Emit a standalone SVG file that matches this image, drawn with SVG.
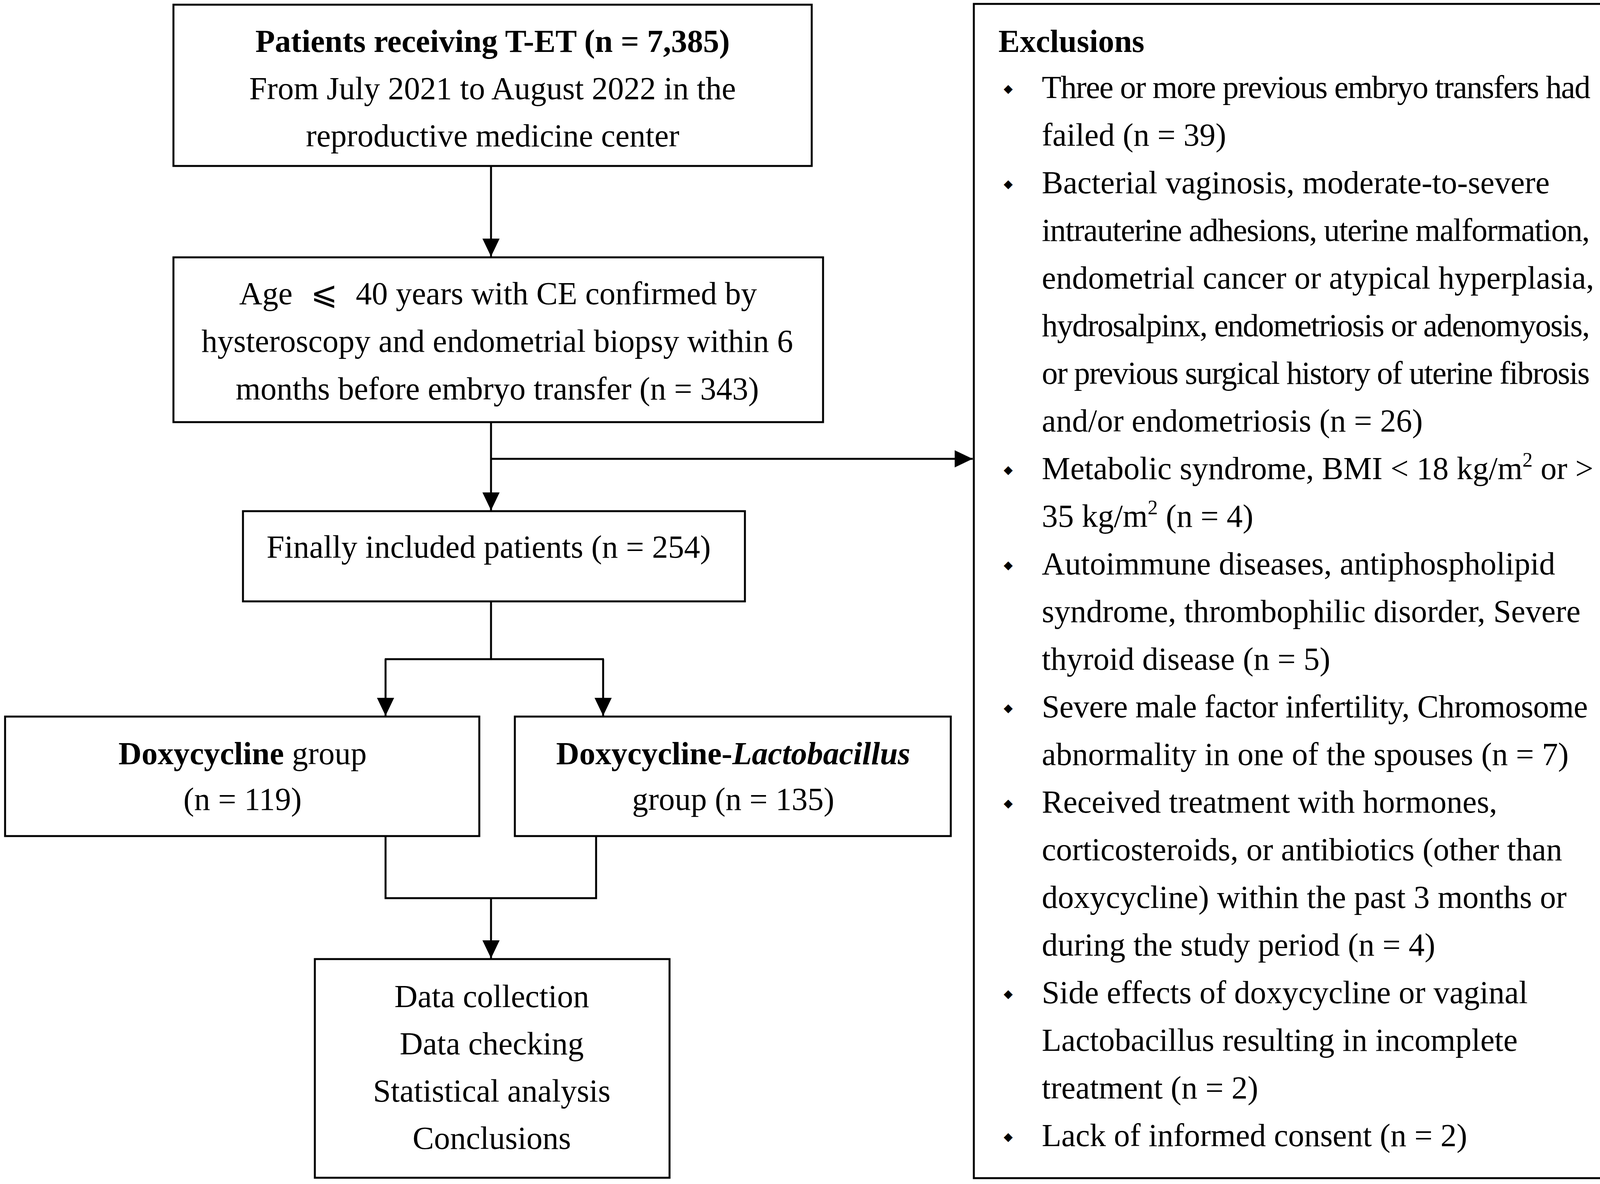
<svg xmlns="http://www.w3.org/2000/svg" width="4242" height="3032" viewBox="0 0 4242 3032">
<style>
.box{fill:#fff;stroke:#000;stroke-width:5}
.t{font-family:"Liberation Serif","Times New Roman",serif;font-size:82px;fill:#000}
.c{text-anchor:middle}
.b{font-weight:bold}
.bl{font-family:"DejaVu Sans",sans-serif;font-size:30px;text-anchor:middle}
.ln{fill:none;stroke:#000;stroke-width:5}
</style>
<defs>
<marker id="ah" markerUnits="userSpaceOnUse" markerWidth="46" markerHeight="44" refX="46" refY="22" orient="auto">
<path d="M0,0 L46,22 L0,44 Z" fill="#000"/>
</marker>
</defs>
<rect width="4242" height="3032" fill="#fff"/>
<g id="connectors">
<path class="ln" d="M1257,425 V657" marker-end="url(#ah)"/>
<path class="ln" d="M1257,1081 V1307" marker-end="url(#ah)"/>
<path class="ln" d="M1257,1175 H2490" marker-end="url(#ah)"/>
<path class="ln" d="M1257,1540 V1688"/>
<path class="ln" d="M985,1688 H1546"/>
<path class="ln" d="M987,1688 V1833" marker-end="url(#ah)"/>
<path class="ln" d="M1544,1688 V1833" marker-end="url(#ah)"/>
<path class="ln" d="M987,2141 V2300 H1526 V2141"/>
<path class="ln" d="M1257,2300 V2454" marker-end="url(#ah)"/>
</g>
<g id="n1">
<rect class="box" x="444" y="12" width="1634" height="413"/>
<text class="t c b" x="1261" y="133">Patients receiving T-ET (n = 7,385)</text>
<text class="t c" x="1261" y="254">From July 2021 to August 2022 in the</text>
<text class="t c" x="1261" y="375">reproductive medicine center</text>
</g>
<g id="n2">
<rect class="box" x="444" y="659" width="1663" height="422"/>
<text class="t c" x="1275" y="779">Age <tspan dx="26" font-family="DejaVu Sans, sans-serif">⩽</tspan><tspan dx="26"> 40 years with CE confirmed by</tspan></text>
<text class="t c" x="1273" y="901">hysteroscopy and endometrial biopsy within 6</text>
<text class="t c" x="1273" y="1023">months before embryo transfer (n = 343)</text>
</g>
<g id="n3">
<rect class="box" x="622" y="1309" width="1285" height="231"/>
<text class="t c" x="1251" y="1428">Finally included patients (n = 254)</text>
</g>
<g id="n4">
<rect class="box" x="13" y="1835" width="1214" height="306"/>
<text class="t c" x="621" y="1957"><tspan class="b">Doxycycline</tspan> group</text>
<text class="t c" x="621" y="2074">(n = 119)</text>
</g>
<g id="n5">
<rect class="box" x="1318" y="1835" width="1116" height="306"/>
<text class="t c" x="1877" y="1957"><tspan class="b">Doxycycline-</tspan><tspan class="b" font-style="italic">Lactobacillus</tspan></text>
<text class="t c" x="1877" y="2074">group (n = 135)</text>
</g>
<g id="n6">
<rect class="box" x="806" y="2456" width="908" height="560"/>
<text class="t c" x="1259" y="2579">Data collection</text>
<text class="t c" x="1259" y="2700">Data checking</text>
<text class="t c" x="1259" y="2821">Statistical analysis</text>
<text class="t c" x="1259" y="2942">Conclusions</text>
</g>
<g id="exclusions">
<rect class="box" x="2493" y="10" width="1736" height="3007"/>
<text class="t b" x="2556" y="133">Exclusions</text>
<text class="bl" x="2581" y="237">◆</text>
<text class="bl" x="2581" y="481">◆</text>
<text class="bl" x="2581" y="1213">◆</text>
<text class="bl" x="2581" y="1457">◆</text>
<text class="bl" x="2581" y="1823">◆</text>
<text class="bl" x="2581" y="2067">◆</text>
<text class="bl" x="2581" y="2555">◆</text>
<text class="bl" x="2581" y="2921">◆</text>
<text class="t" x="2667" y="251" letter-spacing="-1.9">Three or more previous embryo transfers had</text>
<text class="t" x="2667" y="373">failed (n = 39)</text>
<text class="t" x="2667" y="495">Bacterial vaginosis, moderate-to-severe</text>
<text class="t" x="2667" y="617" letter-spacing="-1.7">intrauterine adhesions, uterine malformation,</text>
<text class="t" x="2667" y="739">endometrial cancer or atypical hyperplasia,</text>
<text class="t" x="2667" y="861" letter-spacing="-2">hydrosalpinx, endometriosis or adenomyosis,</text>
<text class="t" x="2667" y="983" letter-spacing="-2.1">or previous surgical history of uterine fibrosis</text>
<text class="t" x="2667" y="1105">and/or endometriosis (n = 26)</text>
<text class="t" x="2667" y="1227">Metabolic syndrome, BMI &lt; 18 kg/m<tspan dy="-32" font-size="52">2</tspan><tspan dy="32"> or &gt;</tspan></text>
<text class="t" x="2667" y="1349">35 kg/m<tspan dy="-32" font-size="52">2</tspan><tspan dy="32"> (n = 4)</tspan></text>
<text class="t" x="2667" y="1471">Autoimmune diseases, antiphospholipid</text>
<text class="t" x="2667" y="1593">syndrome, thrombophilic disorder, Severe</text>
<text class="t" x="2667" y="1715">thyroid disease (n = 5)</text>
<text class="t" x="2667" y="1837" letter-spacing="-0.6">Severe male factor infertility, Chromosome</text>
<text class="t" x="2667" y="1959">abnormality in one of the spouses (n = 7)</text>
<text class="t" x="2667" y="2081">Received treatment with hormones,</text>
<text class="t" x="2667" y="2203">corticosteroids, or antibiotics (other than</text>
<text class="t" x="2667" y="2325">doxycycline) within the past 3 months or</text>
<text class="t" x="2667" y="2447">during the study period (n = 4)</text>
<text class="t" x="2667" y="2569">Side effects of doxycycline or vaginal</text>
<text class="t" x="2667" y="2691">Lactobacillus resulting in incomplete</text>
<text class="t" x="2667" y="2813">treatment (n = 2)</text>
<text class="t" x="2667" y="2935">Lack of informed consent (n = 2)</text>
</g>
</svg>
